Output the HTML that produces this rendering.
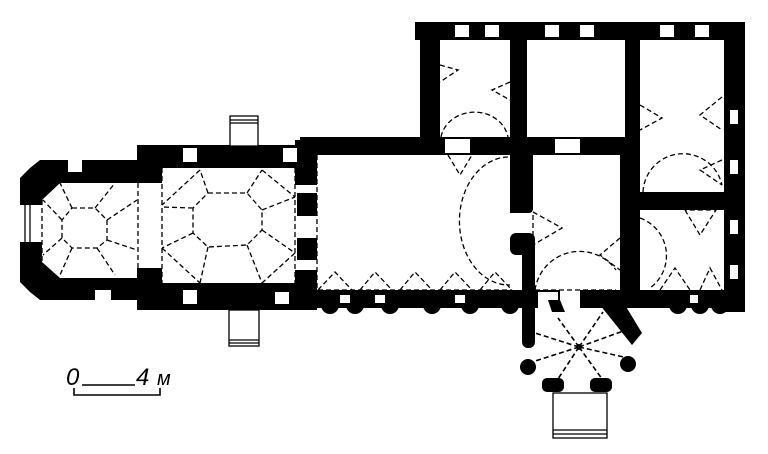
<!DOCTYPE html>
<html><head><meta charset="utf-8"><style>
html,body{margin:0;padding:0;background:#fff;}
svg{display:block}
</style></head><body>
<svg width="768" height="454" viewBox="0 0 768 454" xmlns="http://www.w3.org/2000/svg">
<g fill="#000">
<!-- apse -->
<polygon points="40,160 137,160 137,183 60,183 42,200 42,205 20,205 20,178 30,168"/>
<polygon points="20,242 42,242 42,262 60,278 137,278 137,300 40,300 30,292 20,282"/>
<rect x="137" y="145" width="25" height="38"/>
<rect x="137" y="268" width="25" height="42"/>
<!-- bay 2 -->
<rect x="137" y="145" width="165" height="23"/>
<rect x="137" y="283" width="165" height="27"/>
<!-- nave west wall -->
<rect x="295" y="140" width="22" height="45"/>
<rect x="297" y="193" width="20" height="23"/>
<rect x="297" y="238" width="20" height="22"/>
<rect x="295" y="270" width="22" height="40"/>
<!-- nave top wall -->
<rect x="300" y="137" width="340" height="18"/>
<!-- upper rooms -->
<rect x="415" y="22" width="330" height="18"/>
<rect x="420" y="22" width="20" height="118"/>
<rect x="510" y="22" width="17" height="191"/>
<rect x="510" y="137" width="23" height="76" rx="4"/>
<rect x="510" y="233" width="25" height="22" rx="6"/>
<rect x="522" y="240" width="13" height="108" rx="6"/>
<rect x="625" y="22" width="15" height="125"/>
<rect x="620" y="137" width="20" height="155"/>
<rect x="640" y="192" width="90" height="18"/>
<rect x="724" y="22" width="21" height="290"/>
<!-- bottom wall -->
<rect x="300" y="290" width="445" height="18"/>
<circle cx="330" cy="305" r="9"/><circle cx="355" cy="305" r="9"/><circle cx="390" cy="305" r="9"/>
<circle cx="432" cy="305" r="9"/><circle cx="470" cy="305" r="9"/><circle cx="510" cy="305" r="9"/>
<circle cx="678" cy="305" r="9"/><circle cx="700" cy="305" r="9"/><circle cx="720" cy="305" r="9"/>
<polygon points="600,305 625,305 642,333 632,345"/>
<!-- porch blobs -->
<circle cx="528" cy="367" r="8"/><circle cx="628" cy="364" r="8"/>
<rect x="542" y="378" width="22" height="14" rx="5"/><rect x="590" y="378" width="22" height="14" rx="5"/>
<!-- blobs along left walls -->
<circle cx="185" cy="155" r="9"/><circle cx="212" cy="155" r="10"/><circle cx="265" cy="155" r="10"/>
<circle cx="212" cy="298" r="10"/><circle cx="265" cy="298" r="10"/><circle cx="185" cy="298" r="9"/>
</g>
<!-- window niches (white) -->
<g fill="#fff">
<rect x="68" y="160" width="14" height="12"/><rect x="95" y="290" width="16" height="10"/>
<rect x="183" y="148" width="14" height="14"/><rect x="283" y="148" width="14" height="14"/>
<rect x="183" y="290" width="14" height="14"/><rect x="275" y="292" width="14" height="12"/>
<rect x="455" y="25" width="14" height="12"/><rect x="485" y="25" width="14" height="12"/>
<rect x="545" y="25" width="14" height="12"/><rect x="580" y="25" width="14" height="12"/>
<rect x="660" y="25" width="14" height="12"/><rect x="695" y="25" width="14" height="12"/>
<rect x="730" y="110" width="8" height="14"/><rect x="730" y="160" width="8" height="14"/>
<rect x="730" y="220" width="8" height="14"/><rect x="730" y="265" width="8" height="14"/>
<rect x="340" y="295" width="10" height="8"/><rect x="375" y="295" width="10" height="8"/>
<rect x="455" y="295" width="10" height="8"/><rect x="690" y="295" width="8" height="8"/>
<rect x="538" y="292" width="20" height="16"/><rect x="560" y="290" width="20" height="20"/>
<rect x="445" y="139" width="25" height="14"/><rect x="555" y="139" width="25" height="14"/>
</g>
<g fill="#000"><polygon points="548,300 560,300 565,312 552,312"/></g>
<!-- stairs -->
<g fill="#fff" stroke="#000" stroke-width="1.3">
<rect x="230" y="116" width="28" height="30"/><line x1="230" y1="120" x2="258" y2="120"/><line x1="230" y1="123" x2="258" y2="123"/>
<rect x="229" y="310" width="30" height="36"/><line x1="229" y1="340" x2="259" y2="340"/><line x1="229" y1="343" x2="259" y2="343"/>
<rect x="553" y="393" width="54" height="45"/><line x1="553" y1="430" x2="607" y2="430"/><line x1="553" y1="434" x2="607" y2="434"/>
<line x1="25" y1="205" x2="25" y2="242"/><line x1="30" y1="205" x2="30" y2="242"/>
</g>
<!-- dashed vaults -->
<g fill="none" stroke="#000" stroke-width="1.3" stroke-dasharray="5,3">
<line x1="42" y1="200" x2="42" y2="262"/><line x1="138" y1="183" x2="138" y2="278"/>
<polygon points="72,208 95,208 107,220 107,240 97,248 72,248 62,238 62,220"/>
<path d="M72,208 60,183 M95,208 115,183 M107,220 137,200 M107,240 137,250 M97,248 115,275 M72,248 60,275 M62,238 43,255 M62,220 43,200"/>
<line x1="162" y1="168" x2="162" y2="283"/><line x1="295" y1="168" x2="295" y2="283"/>
<polygon points="208,193 247,193 262,210 262,230 247,245 208,247 193,233 193,208"/>
<path d="M208,193 200,170 M247,193 262,170 M262,210 295,197 M262,230 295,253 M247,245 262,283 M208,247 200,283 M193,233 162,248 M193,208 162,207 M200,170 162,205 M262,170 295,197 M162,248 200,283 M295,253 262,283"/>
<line x1="317" y1="155" x2="317" y2="290"/>
<path d="M318,290 335,272 352,290 M360,290 375,272 392,290 M400,290 415,272 432,290 M440,290 455,272 472,290 M480,290 495,272 512,290"/>
<line x1="318" y1="290" x2="512" y2="290"/>
<path d="M448,155 460,175 472,155"/>
<path d="M508,157 A48,62 0 0 0 510,285"/>
<path d="M441,137 A34,30 0 0 1 508,137"/>
<path d="M440,65 458,70 440,82"/>
<path d="M510,82 492,90 510,100"/>
<path d="M533,215 L533,235 M533,212 L562,228 L533,245"/>
<path d="M535,290 A45,45 0 0 1 616,270"/>
<line x1="535" y1="290" x2="616" y2="290"/>
<path d="M620,238 600,255 620,270"/>
<path d="M640,105 662,118 640,130"/>
<path d="M722,97 700,115 722,130"/>
<path d="M643,192 A40,40 0 0 1 722,185"/>
<path d="M722,160 700,170 722,185"/>
<path d="M640,218 A40,40 0 0 1 650,288"/>
<path d="M685,210 700,235 716,210 L685,210"/>
<path d="M660,290 675,268 690,290 M700,290 710,268 722,290"/>
<path d="M579,347 558,318 M579,347 603,312 M579,347 535,333 M579,347 626,330 M579,347 532,362 M579,347 628,358 M579,347 556,382 M579,347 605,383" stroke-width="1.6"/>
</g>
<circle cx="579" cy="347" r="3" fill="#000"/>
<!-- scale -->
<g font-family="Liberation Sans, sans-serif" font-style="italic" font-size="24" fill="#000">
<text x="66" y="385">0</text>
<text x="136" y="385">4</text>
<text x="157" y="385" font-size="20">м</text>
</g>
<path d="M74,388 V395 H160 V388" fill="none" stroke="#000" stroke-width="1.6"/>
<line x1="82" y1="385" x2="135" y2="385" stroke="#000" stroke-width="1.4"/>
</svg>
</body></html>
